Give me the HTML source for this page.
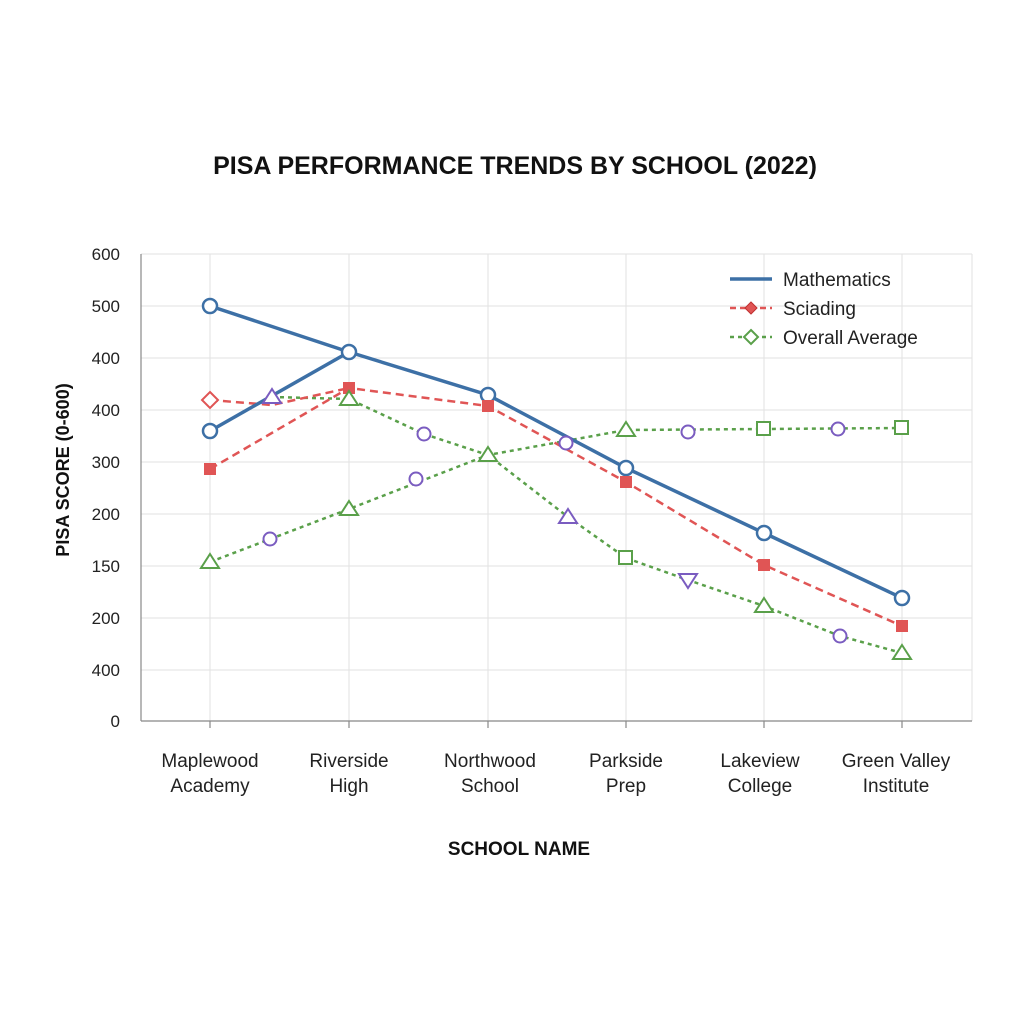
<!DOCTYPE html>
<html><head><style>body{margin:0;background:#fff}svg{display:block}</style></head><body>
<svg width="1024" height="1024" xmlns="http://www.w3.org/2000/svg" font-family="Liberation Sans, sans-serif">
<rect width="1024" height="1024" fill="#fff"/>
<text x="515" y="174" text-anchor="middle" font-size="25" font-weight="bold" fill="#111">PISA PERFORMANCE TRENDS BY SCHOOL (2022)</text>
<g stroke="#e2e2e2" stroke-width="1">
<line x1="141" y1="254" x2="972" y2="254"/><line x1="141" y1="306" x2="972" y2="306"/><line x1="141" y1="358" x2="972" y2="358"/><line x1="141" y1="410" x2="972" y2="410"/><line x1="141" y1="462" x2="972" y2="462"/><line x1="141" y1="514" x2="972" y2="514"/><line x1="141" y1="566" x2="972" y2="566"/><line x1="141" y1="618" x2="972" y2="618"/><line x1="141" y1="670" x2="972" y2="670"/>
<line x1="210" y1="254" x2="210" y2="721"/><line x1="349" y1="254" x2="349" y2="721"/><line x1="488" y1="254" x2="488" y2="721"/><line x1="626" y1="254" x2="626" y2="721"/><line x1="764" y1="254" x2="764" y2="721"/><line x1="902" y1="254" x2="902" y2="721"/><line x1="972" y1="254" x2="972" y2="721"/>
</g>
<g stroke="#888" stroke-width="1.2"><line x1="141" y1="254" x2="141" y2="721"/><line x1="141" y1="721" x2="972" y2="721"/>
<line x1="210" y1="721" x2="210" y2="728"/><line x1="349" y1="721" x2="349" y2="728"/><line x1="488" y1="721" x2="488" y2="728"/><line x1="626" y1="721" x2="626" y2="728"/><line x1="764" y1="721" x2="764" y2="728"/><line x1="902" y1="721" x2="902" y2="728"/></g>
<g font-size="17" fill="#222" text-anchor="end">
<text x="120" y="260">600</text><text x="120" y="312">500</text><text x="120" y="364">400</text><text x="120" y="416">400</text><text x="120" y="468">300</text><text x="120" y="520">200</text><text x="120" y="572">150</text><text x="120" y="624">200</text><text x="120" y="676">400</text><text x="120" y="727">0</text></g>
<g font-size="19" fill="#222" text-anchor="middle">
<text x="210" y="767">Maplewood</text><text x="210" y="792">Academy</text>
<text x="349" y="767">Riverside</text><text x="349" y="792">High</text>
<text x="490" y="767">Northwood</text><text x="490" y="792">School</text>
<text x="626" y="767">Parkside</text><text x="626" y="792">Prep</text>
<text x="760" y="767">Lakeview</text><text x="760" y="792">College</text>
<text x="896" y="767">Green Valley</text><text x="896" y="792">Institute</text></g>
<text x="519" y="855" text-anchor="middle" font-size="19" font-weight="bold" fill="#111">SCHOOL NAME</text>
<text transform="translate(69,470) rotate(-90)" text-anchor="middle" font-size="18" font-weight="bold" fill="#111">PISA SCORE (0-600)</text>
<!-- green dotted -->
<g fill="none" stroke="#5aa04a" stroke-width="2.5" stroke-dasharray="4,4">
<polyline points="210,562 349,509 488,455 626,430 764,429 902,428"/>
<polyline points="272,397 349,399 424,434 488,455 568,517 626,558 688,580 764,606 840,636 902,653"/></g>
<!-- red dashed -->
<g fill="none" stroke="#e05555" stroke-width="2.5" stroke-dasharray="8,5">
<polyline points="210,469 349,388 488,406 626,482 764,565 902,626"/>
<polyline points="210,400 272,405 349,388"/></g>
<!-- blue -->
<g fill="none" stroke="#3d70a6" stroke-width="3.5">
<polyline points="210,306 349,352 488,395 626,468 764,533 902,598"/>
<polyline points="210,431 349,352"/></g>
<g fill="#fff" stroke="#3d70a6" stroke-width="2.5">
<circle cx="210" cy="306" r="7"/><circle cx="210" cy="431" r="7"/><circle cx="349" cy="352" r="7"/><circle cx="488" cy="395" r="7"/><circle cx="626" cy="468" r="7"/><circle cx="764" cy="533" r="7"/><circle cx="902" cy="598" r="7"/></g>
<g fill="#e05555">
<rect x="204" y="463" width="12" height="12"/><rect x="343" y="382" width="12" height="12"/><rect x="482" y="400" width="12" height="12"/><rect x="620" y="476" width="12" height="12"/><rect x="758" y="559" width="12" height="12"/><rect x="896" y="620" width="12" height="12"/></g>
<polygon points="210,392 218,400 210,408 202,400" fill="#fff" stroke="#e05555" stroke-width="2"/>
<g fill="#fff" stroke="#5aa04a" stroke-width="2">
<polygon points="210,554 219,568 201,568"/><polygon points="349,501 358,515 340,515"/><polygon points="488,447 497,461 479,461"/><polygon points="626,422 635,436 617,436"/><polygon points="349,391 358,405 340,405"/><polygon points="764,598 773,612 755,612"/><polygon points="902,645 911,659 893,659"/>
<rect x="757" y="422" width="13" height="13"/><rect x="895" y="421" width="13" height="13"/><rect x="619" y="551" width="13" height="13"/></g>
<g fill="#fff" stroke="#7a5cc0" stroke-width="2">
<circle cx="270" cy="539" r="6.5"/><circle cx="416" cy="479" r="6.5"/><circle cx="566" cy="443" r="6.5"/><circle cx="688" cy="432" r="6.5"/><circle cx="838" cy="429" r="6.5"/><circle cx="424" cy="434" r="6.5"/><circle cx="840" cy="636" r="6.5"/>
<polygon points="272,389 281,403 263,403"/><polygon points="568,509 577,523 559,523"/><polygon points="688,588 697,574 679,574"/></g>
<!-- legend -->
<line x1="730" y1="279" x2="772" y2="279" stroke="#3d70a6" stroke-width="3.5"/>
<line x1="730" y1="308" x2="772" y2="308" stroke="#e05555" stroke-width="2.5" stroke-dasharray="6,4"/>
<polygon points="751,302 757,308 751,314 745,308" fill="#e05555" stroke="#c03030" stroke-width="1"/>
<line x1="730" y1="337" x2="772" y2="337" stroke="#5aa04a" stroke-width="2.5" stroke-dasharray="4,4"/>
<polygon points="751,330 758,337 751,344 744,337" fill="#fff" stroke="#5aa04a" stroke-width="2"/>
<g font-size="19" fill="#222"><text x="783" y="286">Mathematics</text><text x="783" y="315">Sciading</text><text x="783" y="344">Overall Average</text></g>
</svg>
</body></html>
